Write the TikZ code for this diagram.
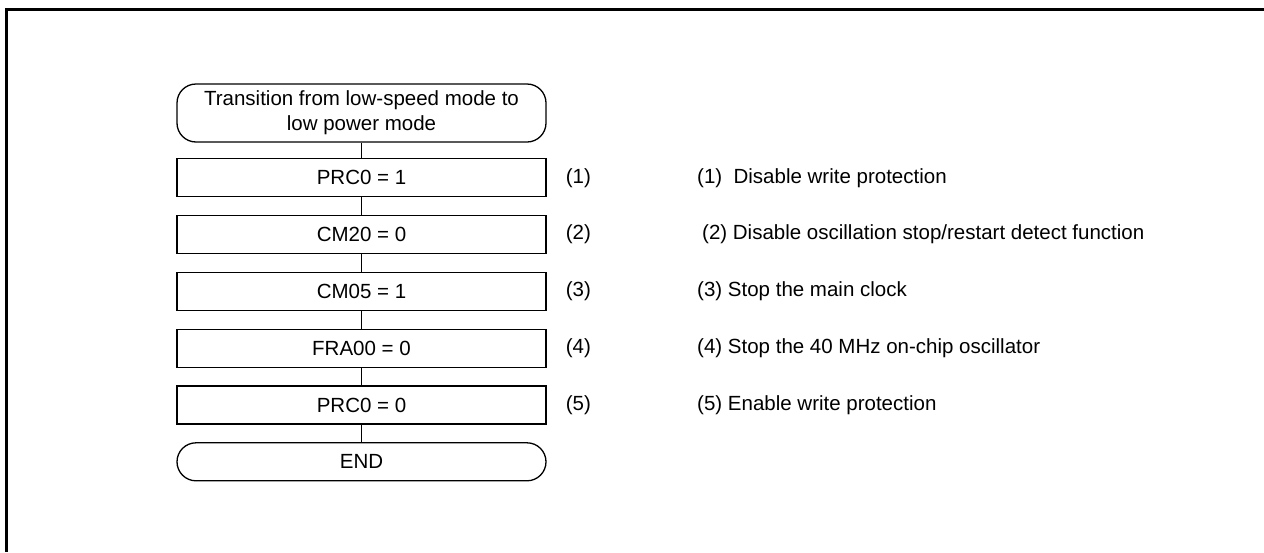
\documentclass[tikz,border=0pt]{standalone}
\usepackage{fontspec}
\setmainfont{Liberation Sans}
\usetikzlibrary{positioning}
\tikzset{
  base/.style={font=\fontsize{20.5}{25}\selectfont,align=center,draw=black,line width=1.3pt,fill=white,inner sep=0pt,minimum width=369pt},
  terminal/.style={base,rounded corners=19pt},
  process/.style={base,minimum height=38pt},
  tag/.style={font=\fontsize{20.5}{25}\selectfont,inner sep=0pt},
  note/.style={font=\fontsize{20.5}{25}\selectfont,anchor=west,inner sep=0pt},
  flow/.style={line width=1pt,draw=black},
  frame/.style={line width=3pt,draw=black}
}
\begin{document}
\begin{tikzpicture}[x=1pt,y=1pt,node distance=17.5pt]
\useasboundingbox (0,0) rectangle (1264,-552);
\draw[frame] (1264,-9.8) -- (6.2,-9.8) -- (6.2,-552);

\node[terminal,minimum height=58pt] (start) at (361.5,-113) {Transition from low-speed mode to\\low power mode};
\node[process,below=15.5pt of start] (prcon) {PRC0 = 1};
\node[process,below=of prcon] (cmtwenty) {CM20 = 0};
\node[process,below=of cmtwenty] (cmfive) {CM05 = 1};
\node[process,below=of cmfive] (fra) {FRA00 = 0};
\node[process,below=of fra] (prcoff) {PRC0 = 0};
\node[terminal,minimum height=38pt,below=of prcoff] (finish) {END};

\node[tag,right=19pt of prcon] (t1) {(1)};
\node[tag,right=19pt of cmtwenty] (t2) {(2)};
\node[tag,right=19pt of cmfive] (t3) {(3)};
\node[tag,right=19pt of fra] (t4) {(4)};
\node[tag,right=19pt of prcoff] (t5) {(5)};

\node[note] (d1) at (prcon -| 697,0) {(1)\ \ Disable write protection};
\node[note] (d2) at (cmtwenty -| 702,0) {(2) Disable oscillation stop/restart detect function};
\node[note] (d3) at (cmfive -| 697,0) {(3) Stop the main clock};
\node[note] (d4) at (fra -| 697,0) {(4) Stop the 40 MHz on-chip oscillator};
\node[note] (d5) at (prcoff -| 697,0) {(5) Enable write protection};

\draw[flow] (start) -- (prcon);
\draw[flow] (prcon) -- (cmtwenty);
\draw[flow] (cmtwenty) -- (cmfive);
\draw[flow] (cmfive) -- (fra);
\draw[flow] (fra) -- (prcoff);
\draw[flow] (prcoff) -- (finish);
\end{tikzpicture}
\end{document}
